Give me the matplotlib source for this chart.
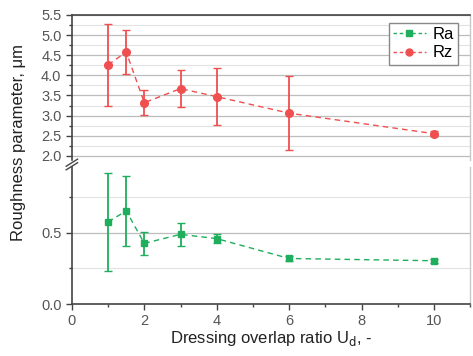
import numpy as np
import matplotlib
matplotlib.use('Agg')
import matplotlib.pyplot as plt
from matplotlib.ticker import MultipleLocator
from matplotlib.lines import Line2D

plt.rcParams['font.family'] = ['Liberation Sans', 'DejaVu Sans']

# data
overlap = [1, 1.5, 2, 3, 4, 6, 10]
rz_mean = [4.26, 4.58, 3.32, 3.67, 3.47, 3.06, 2.55]
rz_err = [1.01, 0.55, 0.31, 0.46, 0.71, 0.92, 0.06]
ra_mean = [0.575, 0.652, 0.425, 0.488, 0.458, 0.319, 0.303]
ra_err = [0.343, 0.245, 0.079, 0.079, 0.03, 0.018, 0.015]

RED = '#ef4f4f'
GREEN = '#1fae5c'
SPINE = '#444444'

fig = plt.figure(figsize=(4.73, 3.56), dpi=100)
L, W = 0.152, 0.842
ax_top = fig.add_axes([L, 0.551, W, 0.407])
ax_bot = fig.add_axes([L, 0.146, W, 0.385], sharex=ax_top)

# upper part: Rz
ax_top.errorbar(overlap, rz_mean, yerr=rz_err, color=RED, ls='--', lw=1,
                marker='o', ms=5.5, elinewidth=1.3, capsize=3, capthick=1,
                dashes=(4, 3))
ax_top.set_ylim(1.9, 5.5)
ax_top.yaxis.set_major_locator(MultipleLocator(0.5))
ax_top.yaxis.set_minor_locator(MultipleLocator(0.25))
ax_top.set_yticks(np.arange(2.0, 5.51, 0.5))

# lower part: Ra
ax_bot.errorbar(overlap, ra_mean, yerr=ra_err, color=GREEN, ls='--', lw=1,
                marker='s', ms=5, elinewidth=1.3, capsize=3, capthick=1,
                dashes=(4, 3))
ax_bot.set_ylim(0, 0.96)
ax_bot.yaxis.set_major_locator(MultipleLocator(0.5))
ax_bot.yaxis.set_minor_locator(MultipleLocator(0.25))

ax_bot.set_xlim(0, 11)
ax_bot.xaxis.set_major_locator(MultipleLocator(2))
ax_bot.xaxis.set_minor_locator(MultipleLocator(1))
ax_bot.set_xticks([0, 2, 4, 6, 8, 10])

for ax in (ax_top, ax_bot):
    ax.grid(True, which='major', axis='y', color='#bdbdbd', lw=0.9)
    ax.grid(True, which='minor', axis='y', color='#e2e2e2', lw=0.8)
    ax.set_axisbelow(True)
    ax.tick_params(which='major', direction='out', length=4, width=1,
                   colors=SPINE, labelsize=10.5, labelcolor='#555555')
    ax.tick_params(which='minor', direction='out', length=2, width=1, colors=SPINE)
    ax.spines['left'].set_color(SPINE)
    ax.spines['left'].set_linewidth(1.2)
    ax.spines['right'].set_color('#c8c8c8')
    ax.spines['right'].set_linewidth(1)

ax_top.spines['bottom'].set_visible(False)
ax_top.spines['top'].set_color(SPINE)
ax_top.spines['top'].set_linewidth(1.2)
ax_top.tick_params(axis='x', which='both', bottom=False, labelbottom=False)
ax_bot.spines['top'].set_visible(False)
ax_bot.spines['bottom'].set_color(SPINE)
ax_bot.spines['bottom'].set_linewidth(1.2)

# break marks on the left spine
for yy in (0.543, 0.533):
    fig.add_artist(Line2D([L - 0.012, L + 0.012], [yy - 0.01, yy + 0.01],
                          transform=fig.transFigure, color=SPINE, lw=1))

handles = [Line2D([], [], color=GREEN, ls='--', lw=1, marker='s', ms=4.5, dashes=(2.5, 2)),
           Line2D([], [], color=RED, ls='--', lw=1, marker='o', ms=5, dashes=(2.5, 2))]
ax_top.legend(handles, ['Ra', 'Rz'], loc='upper right', bbox_to_anchor=(0.97, 0.945),
              fontsize=12, fancybox=False, edgecolor='#888888', framealpha=1,
              handlelength=2.0, handletextpad=0.4, borderpad=0.25,
              labelspacing=0.2, borderaxespad=0)

fig.text(0.04, 0.6, 'Roughness parameter, μm', rotation=90, ha='center',
         va='center', fontsize=12, color='#222222')
fig.text(L + W / 2, 0.05, 'Dressing overlap ratio U$_\\mathrm{d}$, -',
         ha='center', va='center', fontsize=12, color='#222222')

fig.savefig('out.png', dpi=100)
